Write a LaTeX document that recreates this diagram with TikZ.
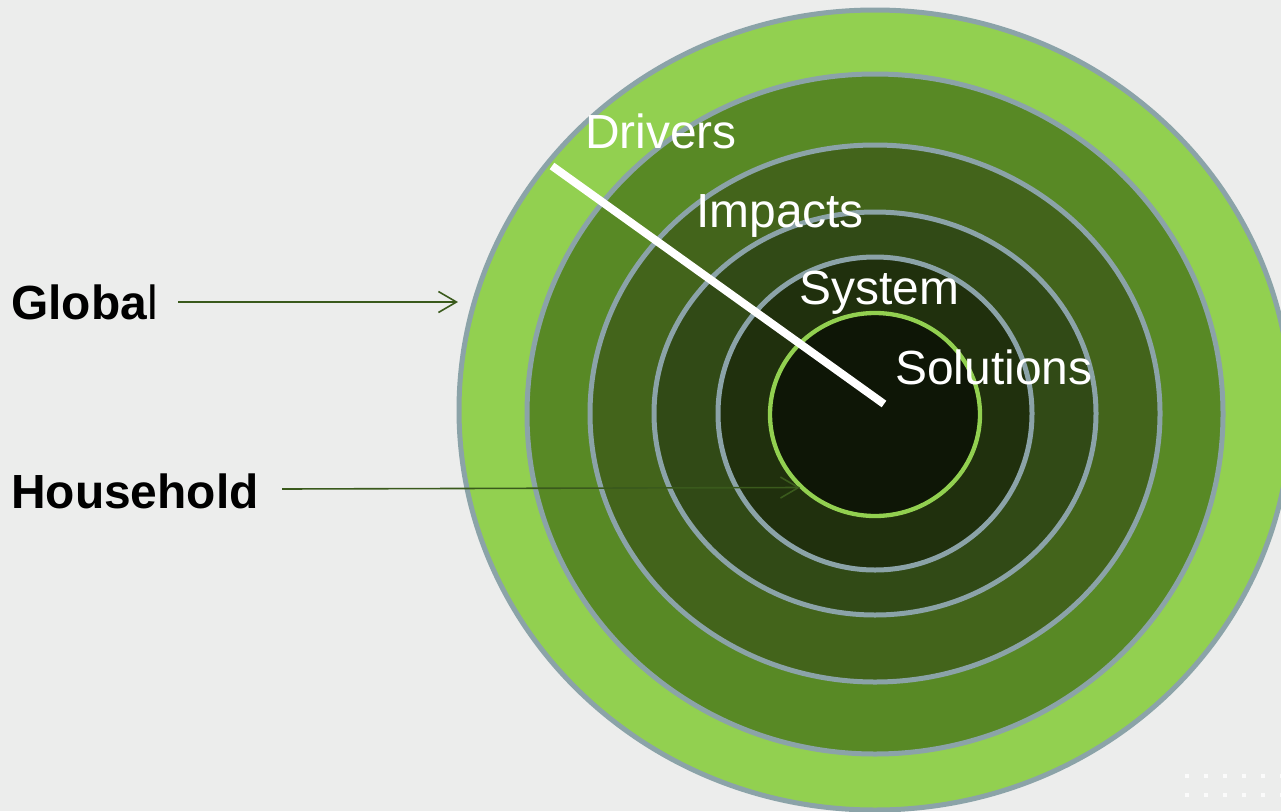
\documentclass[tikz,border=0pt]{standalone}
\usepackage{fontspec}
\setmainfont{Liberation Sans}
\usetikzlibrary{arrows.meta}
\definecolor{bg}{HTML}{ECEDEC}
\definecolor{ringA}{HTML}{92D050}
\definecolor{ringB}{HTML}{588925}
\definecolor{ringC}{HTML}{43641B}
\definecolor{ringD}{HTML}{314A16}
\definecolor{ringE}{HTML}{20300D}
\definecolor{ringF}{HTML}{0E1606}
\definecolor{rim}{HTML}{8BA3A8}
\definecolor{arrowgreen}{HTML}{3A5A1C}
\tikzset{
  ring/.style={draw=rim, line width=5pt},
  biglabel/.style={anchor=base west, inner sep=0pt, font=\fontsize{47.9}{57}\selectfont},
  ringlabel/.style={biglabel, text=white},
  sidelabel/.style={biglabel, text=black},
  pointer/.style={draw=arrowgreen, line width=1.6pt, -{Straight Barb[length=18pt,width=21pt,line width=1.6pt]}},
  dot/.style={fill=white, opacity=0.8}
}
\begin{document}
\begin{tikzpicture}[x=1pt,y=-1pt]
\useasboundingbox (0,0) rectangle (1281,811);
\clip (0,0) rectangle (1281,811);
\fill[bg] (0,0) rectangle (1281,811);
% concentric rings
\coordinate (c) at (875,414);
\filldraw[ring, fill=ringA] (875,410) ellipse [x radius=416, y radius=400];
\filldraw[ring, fill=ringB] (875,414) ellipse [x radius=348, y radius=340];
\filldraw[ring, fill=ringC] (875,413.5) ellipse [x radius=285, y radius=268.5];
\filldraw[ring, fill=ringD] (875,413.5) ellipse [x radius=221, y radius=201.5];
\filldraw[ring, fill=ringE] (875,413.5) ellipse [x radius=157, y radius=156.5];
\filldraw[draw=ringA, line width=4.3pt, fill=ringF] (875,414.5) ellipse [x radius=105, y radius=101.5];
% decorative dots
\foreach \xx in {1187,1206,1225,1244,1263,1282}{
  \foreach \yy in {776,795}{
    \fill[dot] (\xx-2,\yy-2) rectangle (\xx+2,\yy+2);
  }
}
% side labels and pointers
\node[sidelabel] (global) at (11,319) {\textbf{Globa}l};
\node[sidelabel] (household) at (11,508) {\textbf{Household}};
\coordinate (gs) at (178,302);
\coordinate (ge) at (458,302);
\coordinate (hs) at (282,489);
\coordinate (he) at (800,487.5);
\draw[pointer] (gs) -- (ge);
\draw[pointer] (hs) -- (he);
% white radius line
\coordinate (ls) at (552,166);
\coordinate (le) at (884,404);
\draw[white, line width=8pt] (ls) -- (le);
% ring labels
\node[ringlabel] (drivers) at (585,148) {Drivers};
\node[ringlabel] (impacts) at (696,227) {Impacts};
\node[ringlabel] (system) at (799,304) {System};
\node[ringlabel] (solutions) at (895,384) {Solutions};
\end{tikzpicture}
\end{document}
